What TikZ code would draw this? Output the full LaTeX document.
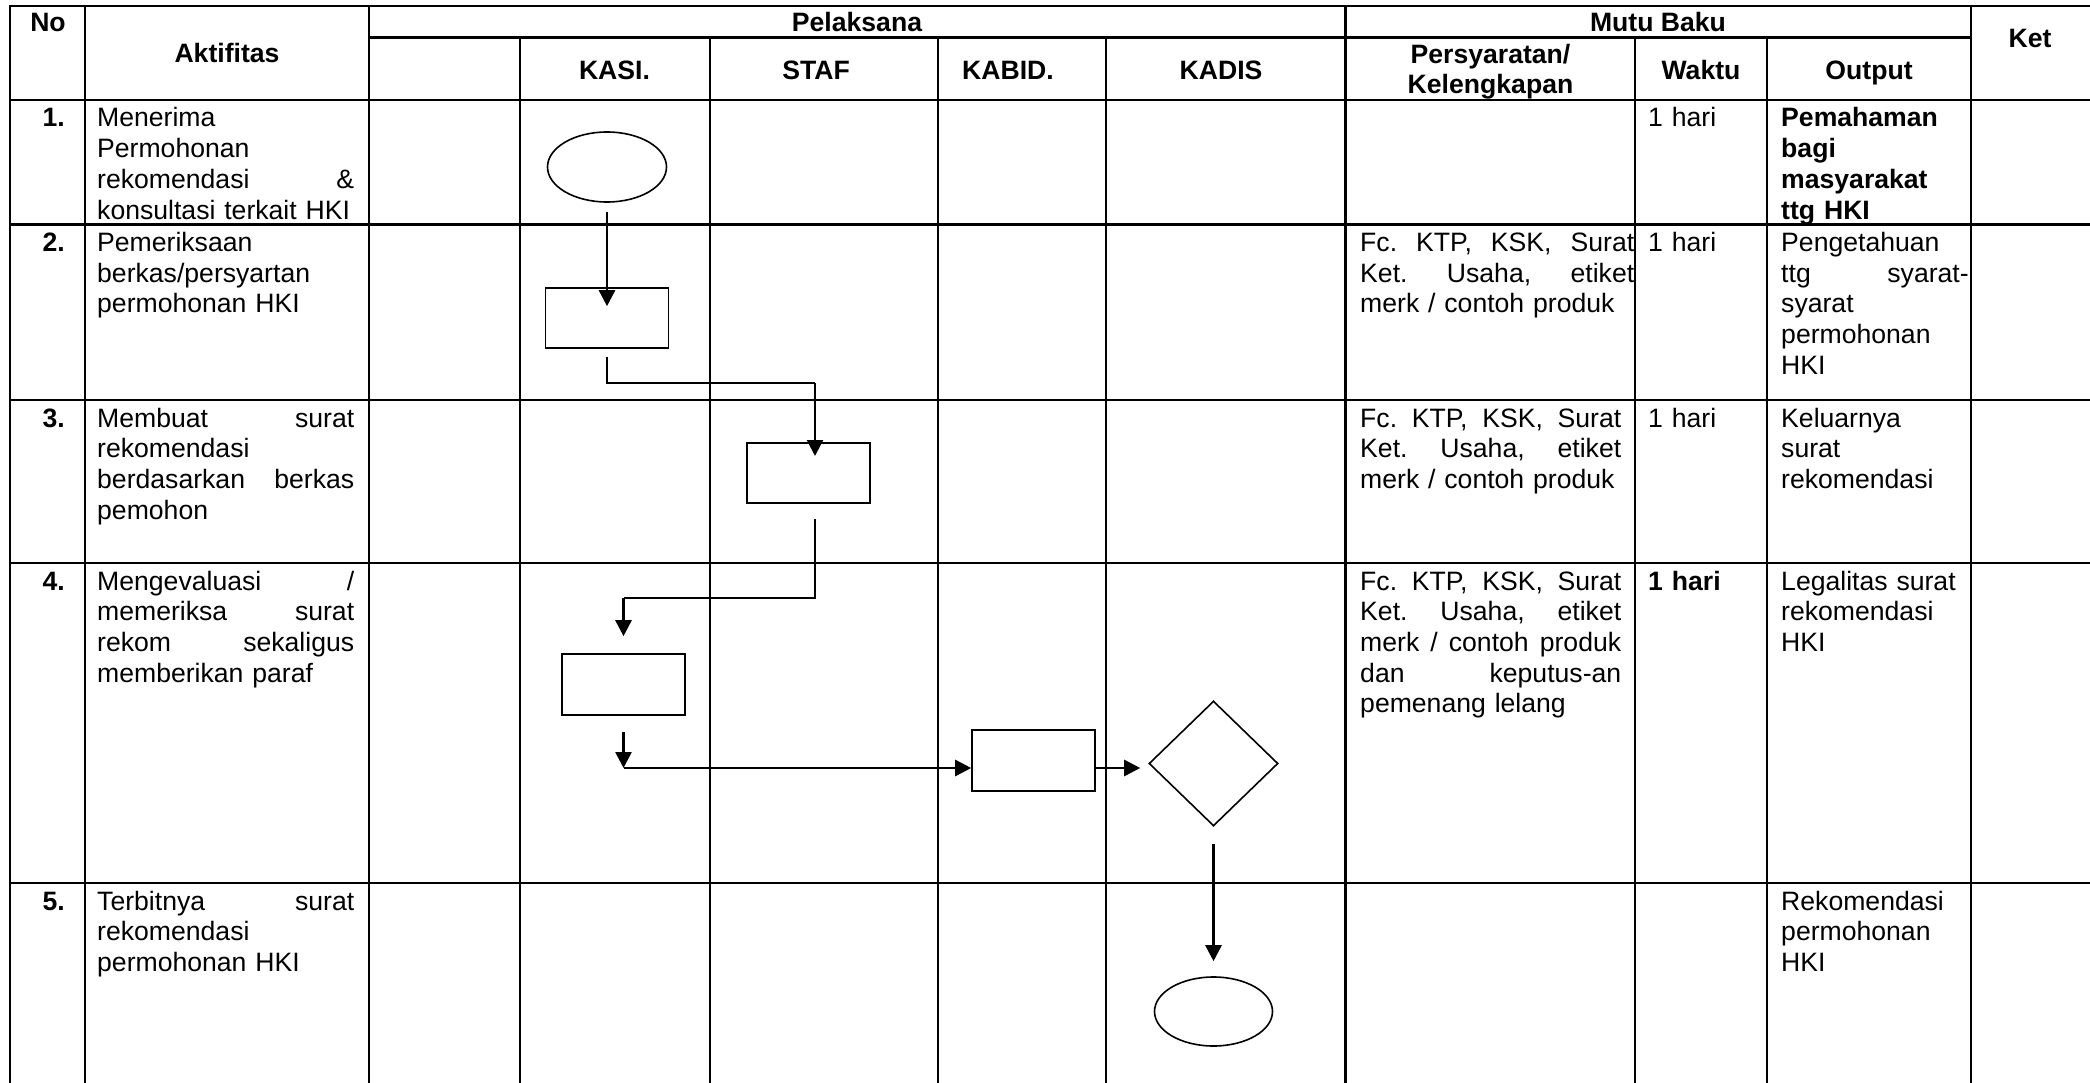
\documentclass[tikz,border=0pt]{standalone}
\usepackage{fontspec}
\setmainfont{Liberation Sans}
\usetikzlibrary{shapes.geometric,arrows.meta,calc}
\newcommand\jl[1]{\leavevmode\hbox to \hsize{\frenchspacing\spaceskip=0.278em plus 10em\relax #1}}
\begin{document}
\begin{tikzpicture}[x=1pt,y=-1pt,
  grid/.style={line width=2.6pt,line cap=rect},
  shp/.style={draw,line width=1.6pt,inner sep=0pt,rectangle},
  thk/.style={line width=2.6pt},
  thn/.style={line width=1.3pt},
  arr/.style={-{Triangle[length=16pt,width=16pt]}},
  hd/.style={font=\fontsize{26.6}{30}\selectfont\bfseries,inner sep=0pt,anchor=base},
  cell/.style={font=\fontsize{26.6}{30.7}\selectfont,inner sep=0pt,anchor=base west,align=left},
  cellb/.style={cell,font=\fontsize{26.6}{30.7}\selectfont\bfseries},
  num/.style={font=\fontsize{26.6}{30.7}\selectfont\bfseries,inner sep=0pt,anchor=base east},
]
\useasboundingbox (0,0) rectangle (2090,1083);
\fill[white] (0,0) rectangle (2090,1083);

% ---------- grid ----------
\foreach \yy in {6,100,224.5,400,563,883}
  \draw[grid] (10,\yy) -- (2090,\yy);
\draw[grid] (369,37.5) -- (1971,37.5);
\foreach \xx in {10,85,369,1345.5,1971}
  \draw[grid] (\xx,6) -- (\xx,1083);
\foreach \xx in {520,710,938,1106,1635,1767}
  \draw[grid] (\xx,37.5) -- (\xx,1083);

% ---------- header ----------
\node[hd] (hNo) at (48,32) {No};
\node[hd] (hAkt) at (227,62.5) {Aktifitas};
\node[hd] (hPel) at (857,32) {Pelaksana};
\node[hd] (hMutu) at (1658,32) {Mutu Baku};
\node[hd] (hKet) at (2030,48) {Ket};
\node[hd] (hKasi) at (614.5,80) {KASI.};
\node[hd] (hStaf) at (816,80) {STAF};
\node[hd] (hKabid) at (1008,80) {KABID.};
\node[hd] (hKadis) at (1221,80) {KADIS};
\node[hd] (hPers1) at (1490.5,63.3) {Persyaratan/};
\node[hd] (hPers2) at (1490.5,93.3) {Kelengkapan};
\node[hd] (hWaktu) at (1701,80) {Waktu};
\node[hd] (hOut) at (1869,80) {Output};

% ---------- row 1 ----------
\node[num] (n1) at (65,127) {1.};
\node[cell,text width=257pt] (a1) at (97,127) {Menerima\\Permohonan\\\jl{rekomendasi \&}\\konsultasi terkait HKI};
\node[cell,text width=110pt] (w1) at (1648,127) {1 hari};
\node[cellb,text width=188pt] (o1) at (1781,127) {Pemahaman\\bagi\\masyarakat\\ttg HKI};

% ---------- row 2 ----------
\node[num] (n2) at (65,251.5) {2.};
\node[cell,text width=257pt] (a2) at (97,251.5) {Pemeriksaan\\berkas/persyartan\\permohonan HKI};
\node[cell,text width=274pt] (s2) at (1360,251.5) {\jl{Fc. KTP, KSK, Surat}\\\jl{Ket. Usaha, etiket}\\merk / contoh produk};
\node[cell,text width=110pt] (w2) at (1648,251.5) {1 hari};
\node[cell,text width=187.5pt] (o2) at (1781,251.5) {Pengetahuan\\\jl{ttg syarat-}\\syarat\\permohonan\\HKI};

% ---------- row 3 ----------
\node[num] (n3) at (65,427) {3.};
\node[cell,text width=257pt] (a3) at (97,427) {\jl{Membuat surat}\\rekomendasi\\\jl{berdasarkan berkas}\\pemohon};
\node[cell,text width=261pt] (s3) at (1360,427) {\jl{Fc. KTP, KSK, Surat}\\\jl{Ket. Usaha, etiket}\\merk / contoh produk};
\node[cell,text width=110pt] (w3) at (1648,427) {1 hari};
\node[cell,text width=188pt] (o3) at (1781,427) {Keluarnya\\surat\\rekomendasi};

% ---------- row 4 ----------
\node[num] (n4) at (65,590) {4.};
\node[cell,text width=257pt] (a4) at (97,590) {\jl{Mengevaluasi /}\\\jl{memeriksa surat}\\\jl{rekom sekaligus}\\memberikan paraf};
\node[cell,text width=261pt] (s4) at (1360,590) {\jl{Fc. KTP, KSK, Surat}\\\jl{Ket. Usaha, etiket}\\\jl{merk / contoh produk}\\\jl{dan keputus-an}\\pemenang lelang};
\node[cellb,text width=110pt] (w4) at (1648,590) {1 hari};
\node[cell,text width=188pt] (o4) at (1781,590) {Legalitas surat\\rekomendasi\\HKI};

% ---------- row 5 ----------
\node[num] (n5) at (65,910) {5.};
\node[cell,text width=257pt] (a5) at (97,910) {\jl{Terbitnya surat}\\rekomendasi\\permohonan HKI};
\node[cell,text width=188pt] (o5) at (1781,910) {Rekomendasi\\permohonan\\HKI};

% ---------- flow shapes ----------
\node[shp,ellipse,minimum width=119pt,minimum height=70pt] (e1) at (607,167) {};
\node[shp,minimum width=123pt,minimum height=60pt] (b2) at (607,318) {};
\node[shp,minimum width=123pt,minimum height=60pt] (b3) at (808.5,473) {};
\node[shp,minimum width=123pt,minimum height=61pt] (b4) at (623.5,684.5) {};
\node[shp,minimum width=123pt,minimum height=61pt] (b5) at (1033.5,760.5) {};
\node[shp,diamond,minimum width=129pt,minimum height=125pt] (d1) at (1213.5,763.5) {};
\node[shp,ellipse,minimum width=118pt,minimum height=69pt] (e2) at (1213.5,1011.5) {};

% ---------- connectors ----------
\coordinate (k1) at (815,383);
\coordinate (t3) at (815,456);
\coordinate (k2) at (815,519);
\coordinate (k3) at (623.5,598);
\coordinate (k4) at (623.5,768);

\draw[thk,arr] ($(e1.south)+(0,9)$) -- ($(b2.north)+(0,19)$);
\draw[thn] ($(b2.south)+(0,8)$) |- (k1);
\draw[thk,arr] (k1) -- (t3);
\draw[thn] (k2) |- (k3);
\draw[thk,arr] (k3) -- ($(b4.north)+(0,-17)$);
\draw[thk,arr] ($(b4.south)+(0,16)$) -- (k4);
\draw[thk,arr] (k4) -- (b5.west |- k4);
\draw[thk,arr] (b5.east |- k4) -- ($(d1.west |- k4)+(-8,0)$);
\draw[thk,arr] ($(d1.south)+(0,17)$) -- ($(e2.north)+(0,-15)$);
\end{tikzpicture}
\end{document}
